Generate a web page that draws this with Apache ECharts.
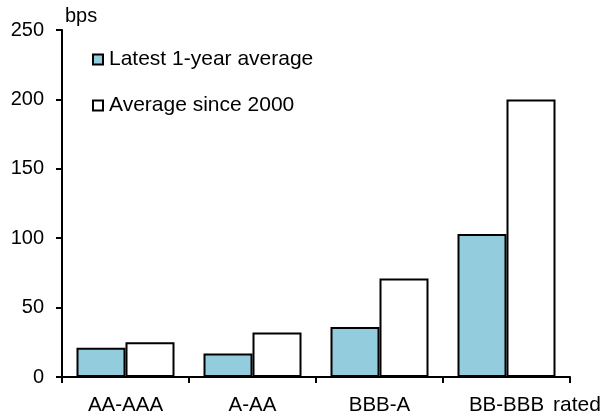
<!DOCTYPE html>
<html>
<head>
<meta charset="utf-8">
<script src="https://cdn.jsdelivr.net/npm/echarts@6/dist/echarts.min.js"></script>
<style>
  html, body { margin: 0; padding: 0; background: #fff; }
  #chart { width: 603px; height: 416px; }
</style>
</head>
<body>
<div id="chart"></div>
<script>
// Spread by rating bucket, in basis points
const categories = ['AA-AAA', 'A-AA', 'BBB-A', 'BB-BBB'];
const latestYear = [21, 17, 36, 103];
const since2000 = [25, 32, 71, 200];
const yTicks = { min: 0, max: 250, interval: 50 };

const FONT = '"Liberation Sans", Arial, sans-serif';
const chart = echarts.init(document.getElementById('chart'), null, { renderer: 'canvas' });

chart.setOption({
  animation: false,
  backgroundColor: '#ffffff',
  textStyle: { fontFamily: FONT, color: '#000' },
  grid: { left: 62, right: 33, top: 30, bottom: 39, containLabel: false, outerBoundsMode: 'none' },
  legend: {
    orient: 'vertical',
    left: 92,
    top: 49,
    padding: 0,
    itemWidth: 10,
    itemHeight: 10,
    itemGap: 25,
    icon: 'rect',
    textStyle: { fontFamily: FONT, fontSize: 21, color: '#000', padding: [0, 0, 0, 1] },
    data: ['Latest 1-year average', 'Average since 2000']
  },
  xAxis: {
    type: 'category',
    data: categories,
    name: 'rated',
    nameLocation: 'end',
    nameGap: -17,
    nameTextStyle: { fontFamily: FONT, fontSize: 21, color: '#000', align: 'left', verticalAlign: 'top', padding: [18, 0, 0, 0] },
    axisLine: { show: true, lineStyle: { color: '#000', width: 2 } },
    axisTick: { show: true, alignWithLabel: false, length: 6, lineStyle: { color: '#000', width: 2 } },
    axisLabel: { fontFamily: FONT, fontSize: 20.5, color: '#000', margin: 18 },
    splitLine: { show: false }
  },
  yAxis: {
    type: 'value',
    min: yTicks.min,
    max: yTicks.max,
    interval: yTicks.interval,
    name: 'bps',
    nameLocation: 'end',
    nameGap: 4,
    nameTextStyle: { fontFamily: FONT, fontSize: 20, color: '#000', align: 'left', verticalAlign: 'bottom', padding: [0, 0, 0, 3] },
    axisLine: { show: true, lineStyle: { color: '#000', width: 2 } },
    axisTick: { show: true, length: 6, lineStyle: { color: '#000', width: 2 } },
    axisLabel: { fontFamily: FONT, fontSize: 20, color: '#000', margin: 18 },
    splitLine: { show: false }
  },
  series: [
    {
      name: 'Latest 1-year average',
      type: 'bar',
      data: latestYear,
      barWidth: 49,
      barGap: '0%',
      itemStyle: { color: '#93CDDD', borderColor: '#000', borderWidth: 2 }
    },
    {
      name: 'Average since 2000',
      type: 'bar',
      data: since2000,
      barWidth: 49,
      barGap: '0%',
      itemStyle: { color: '#ffffff', borderColor: '#000', borderWidth: 2 }
    }
  ]
});
</script>
</body>
</html>
